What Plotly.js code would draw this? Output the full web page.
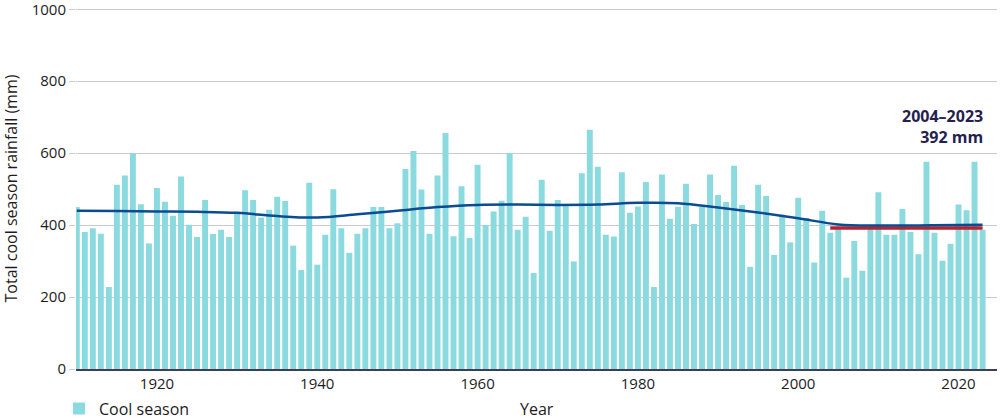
<!DOCTYPE html>
<html>
<head>
<meta charset="utf-8">
<script src="https://cdn.plot.ly/plotly-3.0.1.min.js"></script>
<style>html,body{margin:0;padding:0;background:#fff;}#chart{width:1000px;height:420px;}</style>
</head>
<body>
<div id="chart"></div>
<script>
// ---- data ----
const startYear = 1910;
const rainfall = [
  450,381,391,376,228,512,538,600,458,349,
  503,465,426,535,401,367,470,375,387,367,
  437,497,470,421,443,479,467,343,275,518,
  290,373,500,391,323,376,391,450,450,391,
  405,556,606,499,376,538,656,369,508,364,
  568,400,438,468,600,387,423,267,526,384,
  470,453,299,544,665,562,373,368,547,434,
  452,520,228,541,418,451,515,403,450,541,
  484,464,565,456,284,512,481,317,429,352,
  476,420,296,440,379,389,254,356,273,389,
  491,373,373,445,381,319,576,379,301,348,
  457,441,576,387
];
const years = rainfall.map((_, i) => startYear + i);
const trendYears = [1910,1915,1920,1925,1930,1935,1940,1945,1950,1955,1960,1965,1970,1975,1980,1985,1990,1995,2000,2005,2010,2015,2020,2023];
const trendValues = [440,439,438,437,434,425,421,430,440,450,456,457,456,457,462,461,449,435,419,402,399,399,400,401];
const meanYears = [2004, 2023];
const meanValue = 392;
const meanLabel = "2004–2023<br>392 mm";
const xTicks = [1920,1940,1960,1980,2000,2020];
const yTicks = [0,200,400,600,800,1000];
const xTitle = "Year";
const yTitle = "Total cool season rainfall (mm)";

const FONT = "'Open Sans', sans-serif";
const traces = [
  {
    type: 'bar', x: years, y: rainfall, name: 'Cool season',
    width: 0.74,
    marker: {color: '#8bdadf', line: {width: 0}},
    hoverinfo: 'x+y'
  },
  {
    type: 'scatter', mode: 'lines', x: meanYears, y: meanYears.map(() => meanValue),
    line: {color: '#b5232f', width: 3.5}, showlegend: false, hoverinfo: 'skip'
  },
  {
    type: 'scatter', mode: 'lines', x: trendYears, y: trendValues,
    line: {color: '#0a4b92', width: 2.5, shape: 'spline', smoothing: 1}, showlegend: false, hoverinfo: 'skip'
  }
];

const layout = {
  width: 1000, height: 420,
  margin: {l: 76, r: 3, t: 8, b: 51},
  paper_bgcolor: '#ffffff', plot_bgcolor: '#ffffff',
  font: {family: FONT, size: 15, color: '#1c1c24'},
  bargap: 0.26,
  showlegend: true,
  legend: {
    orientation: 'h', xref: 'container', yref: 'container',
    x: 0.059, xanchor: 'left', y: 0.027, yanchor: 'middle',
    font: {family: FONT, size: 16, color: '#1c1c24'},
    bgcolor: 'rgba(0,0,0,0)'
  },
  xaxis: {
    range: [1909.9, 2024.8],
    tickvals: xTicks, ticktext: xTicks.map(String),
    showgrid: false, zeroline: false,
    showline: true, linecolor: '#3e3d55', linewidth: 2,
    ticks: '', tickfont: {family: FONT, size: 15, color: '#1c1c24'},
    automargin: false
  },
  yaxis: {
    range: [0, 1003.5], tickvals: yTicks,
    showgrid: true, gridcolor: '#cbc8d9', gridwidth: 1,
    zeroline: false, showline: false,
    ticks: 'outside', ticklen: 6, tickcolor: '#cbc8d9', tickwidth: 1,
    ticklabeloverflow: 'allow',
    tickfont: {family: FONT, size: 15, color: '#1c1c24'},
    automargin: false,
    title: {text: yTitle, font: {family: FONT, size: 16, color: '#1c1c24'}, standoff: 18}
  },
  annotations: [
    {
      x: 2023.3, y: 673, xref: 'x', yref: 'y', xanchor: 'right', yanchor: 'middle',
      text: '<b>' + meanLabel + '</b>', showarrow: false, align: 'right',
      font: {family: FONT, size: 16, color: '#241f4e'}
    },
    {
      x: 0.5, y: -0.11, xref: 'paper', yref: 'paper', xanchor: 'center', yanchor: 'middle',
      text: xTitle, showarrow: false,
      font: {family: FONT, size: 16, color: '#1c1c24'}
    }
  ]
};

Plotly.newPlot('chart', traces, layout, {displayModeBar: false, staticPlot: true});
</script>
</body>
</html>
